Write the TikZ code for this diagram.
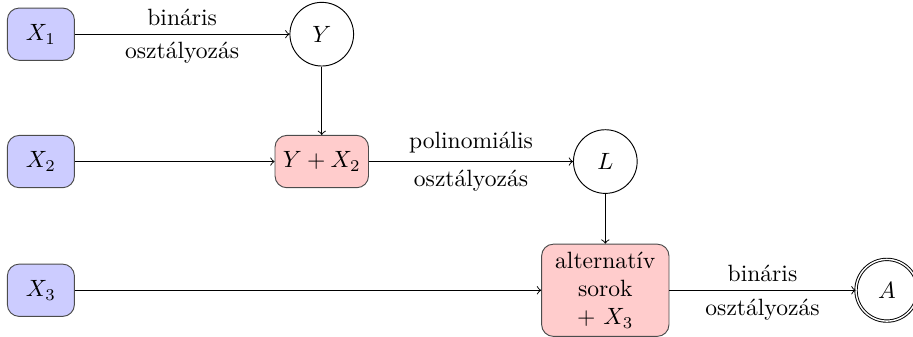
\documentclass[tikz,border=0pt]{standalone}
\begin{document}
\begin{tikzpicture}[->,
  input/.style={draw=black!70, fill=blue!20, rounded corners=5pt, minimum width=1cm, minimum height=0.78cm},
  mixed/.style={draw=black!70, fill=red!20, rounded corners=5pt, minimum width=1cm, minimum height=0.78cm},
  state/.style={draw, circle, minimum size=0.95cm}]
\useasboundingbox (-0.61,0.51) rectangle (13.01,-4.51);
% Inputs
\node[input] (x1) at (0,0) {$X_1$};
\node[input] (x2) at (0,-1.9) {$X_2$};
\node[input] (x3) at (0,-3.82) {$X_3$};
% Intermediate results
\node[state] (y) at (4.19,0) {$Y$};
\node[mixed] (yx2) at (4.19,-1.9) {$Y+X_2$};
\node[state] (l) at (8.42,-1.9) {$L$};
\node[mixed, align=center, minimum width=1.9cm] (alt) at (8.42,-3.82) {alternatív\\sorok\\$+\ X_3$};
% Output
\node[state, double, minimum size=0.92cm] (a) at (12.62,-3.82) {$A$};
% Edges
\draw (x1) -- node[above] {bináris} node[below] {osztályozás} (y);
\draw (y) -- (yx2);
\draw (x2) -- (yx2);
\draw (yx2) -- node[above] {polinomiális} node[below] {osztályozás} (l);
\draw (l) -- (alt);
\draw (x3) -- (alt);
\draw (alt) -- node[above] {bináris} node[below] {osztályozás} (a);
\end{tikzpicture}
\end{document}
